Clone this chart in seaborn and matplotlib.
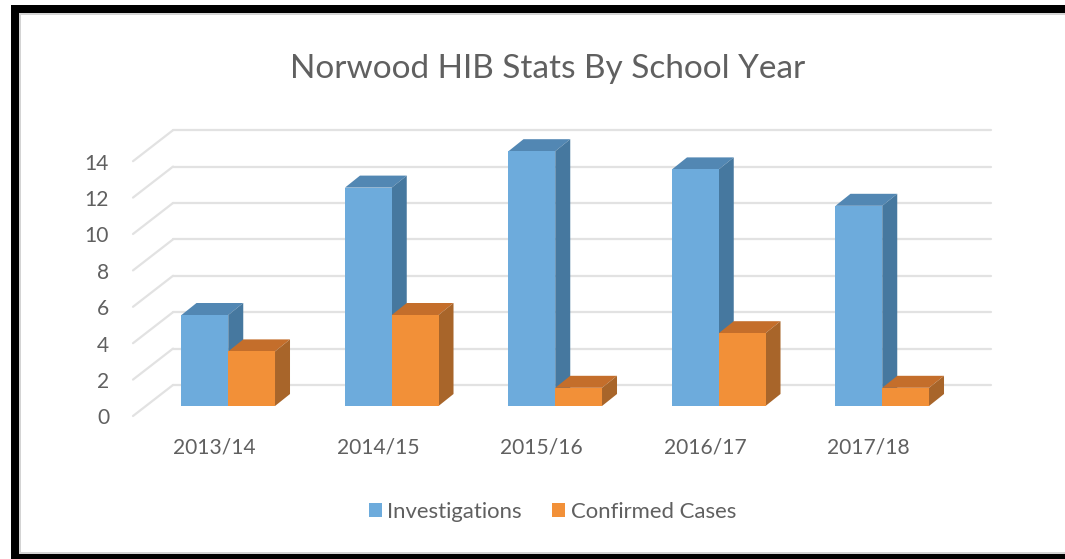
import pandas as pd
import matplotlib
matplotlib.use("Agg")
import matplotlib.pyplot as plt
from matplotlib.patches import Patch, Polygon, Rectangle
from matplotlib.transforms import Affine2D
import seaborn as sns

# data
YEARS = ["2013/14", "2014/15", "2015/16", "2016/17", "2017/18"]
INVESTIGATIONS = [5, 12, 14, 13, 11]
CONFIRMED = [3, 5, 1, 4, 1]
SERIES = ["Investigations", "Confirmed Cases"]
Y_TICKS = [0, 2, 4, 6, 8, 10, 12, 14]

# colours: front, top, side
FACES = {
    "Investigations": ("#6DABDC", "#5287B3", "#46789F"),
    "Confirmed Cases": ("#F29038", "#C46E2B", "#A8652A"),
}
TEXT_COL = "#606060"
GRID_COL = "#E2E2E2"

W, H = 1065, 559

df = pd.DataFrame({
    "year": YEARS * 2,
    "count": INVESTIGATIONS + CONFIRMED,
    "series": [SERIES[0]] * len(YEARS) + [SERIES[1]] * len(YEARS),
})

sns.set_style("white")
plt.rcParams["font.family"] = ["Lato", "DejaVu Sans"]

fig = plt.figure(figsize=(W / 100, H / 100), dpi=100)
ax = fig.add_axes([146.5 / W, (H - 406) / H, 817.5 / W, 254.8 / H])
ax.patch.set_alpha(0)

palette = {s: FACES[s][0] for s in SERIES}
sns.barplot(data=df, x="year", y="count", hue="series", hue_order=SERIES, order=YEARS,
            palette=palette, width=0.572, gap=0, saturation=1, legend=False, ax=ax)
ax.set_xlim(-0.5, 4.5)
ax.set_ylim(0, 14)
ax.set_xlabel("")
ax.set_ylabel("")
ax.set_yticks(Y_TICKS)
sns.despine(ax=ax, left=True, bottom=True)

# 3d look, pixels -> data units
px_x = 5 / 817.5
px_y = 14 / 254.8
bar_dx, bar_dy = 15 * px_x, 12 * px_y

# walls
back = ax.transData + Affine2D().translate(26.5, 21)
front = ax.transData + Affine2D().translate(-13.5, -10)
for v in Y_TICKS:
    ax.plot([-0.5, 4.5], [v, v], color=GRID_COL, lw=1.6, transform=back, clip_on=False, zorder=1)
    x0, y0 = front.transform((-0.5, v))
    x1, y1 = back.transform((-0.5, v))
    ax.plot([x0, x1], [y0, y1], color=GRID_COL, lw=1.6, transform=None, clip_on=False, zorder=1)

# top and side faces built from the seaborn bars
for i, (s, bars) in enumerate(zip(SERIES, ax.containers)):
    base_z = 2 + i
    _, top_col, side_col = FACES[s]
    for bar in bars:
        x, w, h = bar.get_x(), bar.get_width(), bar.get_height()
        bar.set_zorder(base_z + 0.5)
        bar.set_edgecolor("none")
        ax.add_patch(Polygon([(x, h), (x + w, h), (x + w + bar_dx, h + bar_dy), (x + bar_dx, h + bar_dy)],
                             closed=True, fc=top_col, ec="none", clip_on=False, zorder=base_z))
        ax.add_patch(Polygon([(x + w, 0), (x + w + bar_dx, bar_dy), (x + w + bar_dx, h + bar_dy), (x + w, h)],
                             closed=True, fc=side_col, ec="none", clip_on=False, zorder=base_z))

ax.tick_params(axis="x", length=0, pad=22.5, labelsize=15.1, labelcolor=TEXT_COL)
ax.tick_params(axis="y", length=0, pad=27, labelsize=15.1, labelcolor=TEXT_COL)

# tick labels sit on the front plane of the box
for lab in ax.get_xticklabels():
    lab.set_transform(lab.get_transform() + Affine2D().translate(-13.5, 0))
for lab in ax.get_yticklabels():
    lab.set_transform(lab.get_transform() + Affine2D().translate(0, -10.5))

fig.text(547.5 / W, 1 - 68.5 / H, "Norwood HIB Stats By School Year", ha="center", va="center",
         fontsize=24, color=TEXT_COL)

handles = [Patch(fc=FACES[s][0], ec="none", label=s) for s in SERIES]
fig.legend(handles=handles, loc="center", bbox_to_anchor=(552.5 / W, 1 - 511.5 / H), ncol=2, frameon=False,
           fontsize=15.9, labelcolor=TEXT_COL, handlelength=0.59, handleheight=0.59,
           handletextpad=0.25, columnspacing=1.38)

# screenshot frame
for x0, y0, x1, y1, col in [
    (19, 13, 21, H, "#D4D4D4"),
    (11, 13, W, 15, "#D4D4D4"),
    (11, 552, W, 554, "#D4D4D4"),
    (11, 5, 19, H, "black"),
    (11, 5, W, 13, "black"),
    (11, 554, W, H, "black"),
]:
    fig.add_artist(Rectangle((x0 / W, 1 - y1 / H), (x1 - x0) / W, (y1 - y0) / H, fc=col, ec="none",
                             transform=fig.transFigure))

fig.savefig("out.png", dpi=100)
